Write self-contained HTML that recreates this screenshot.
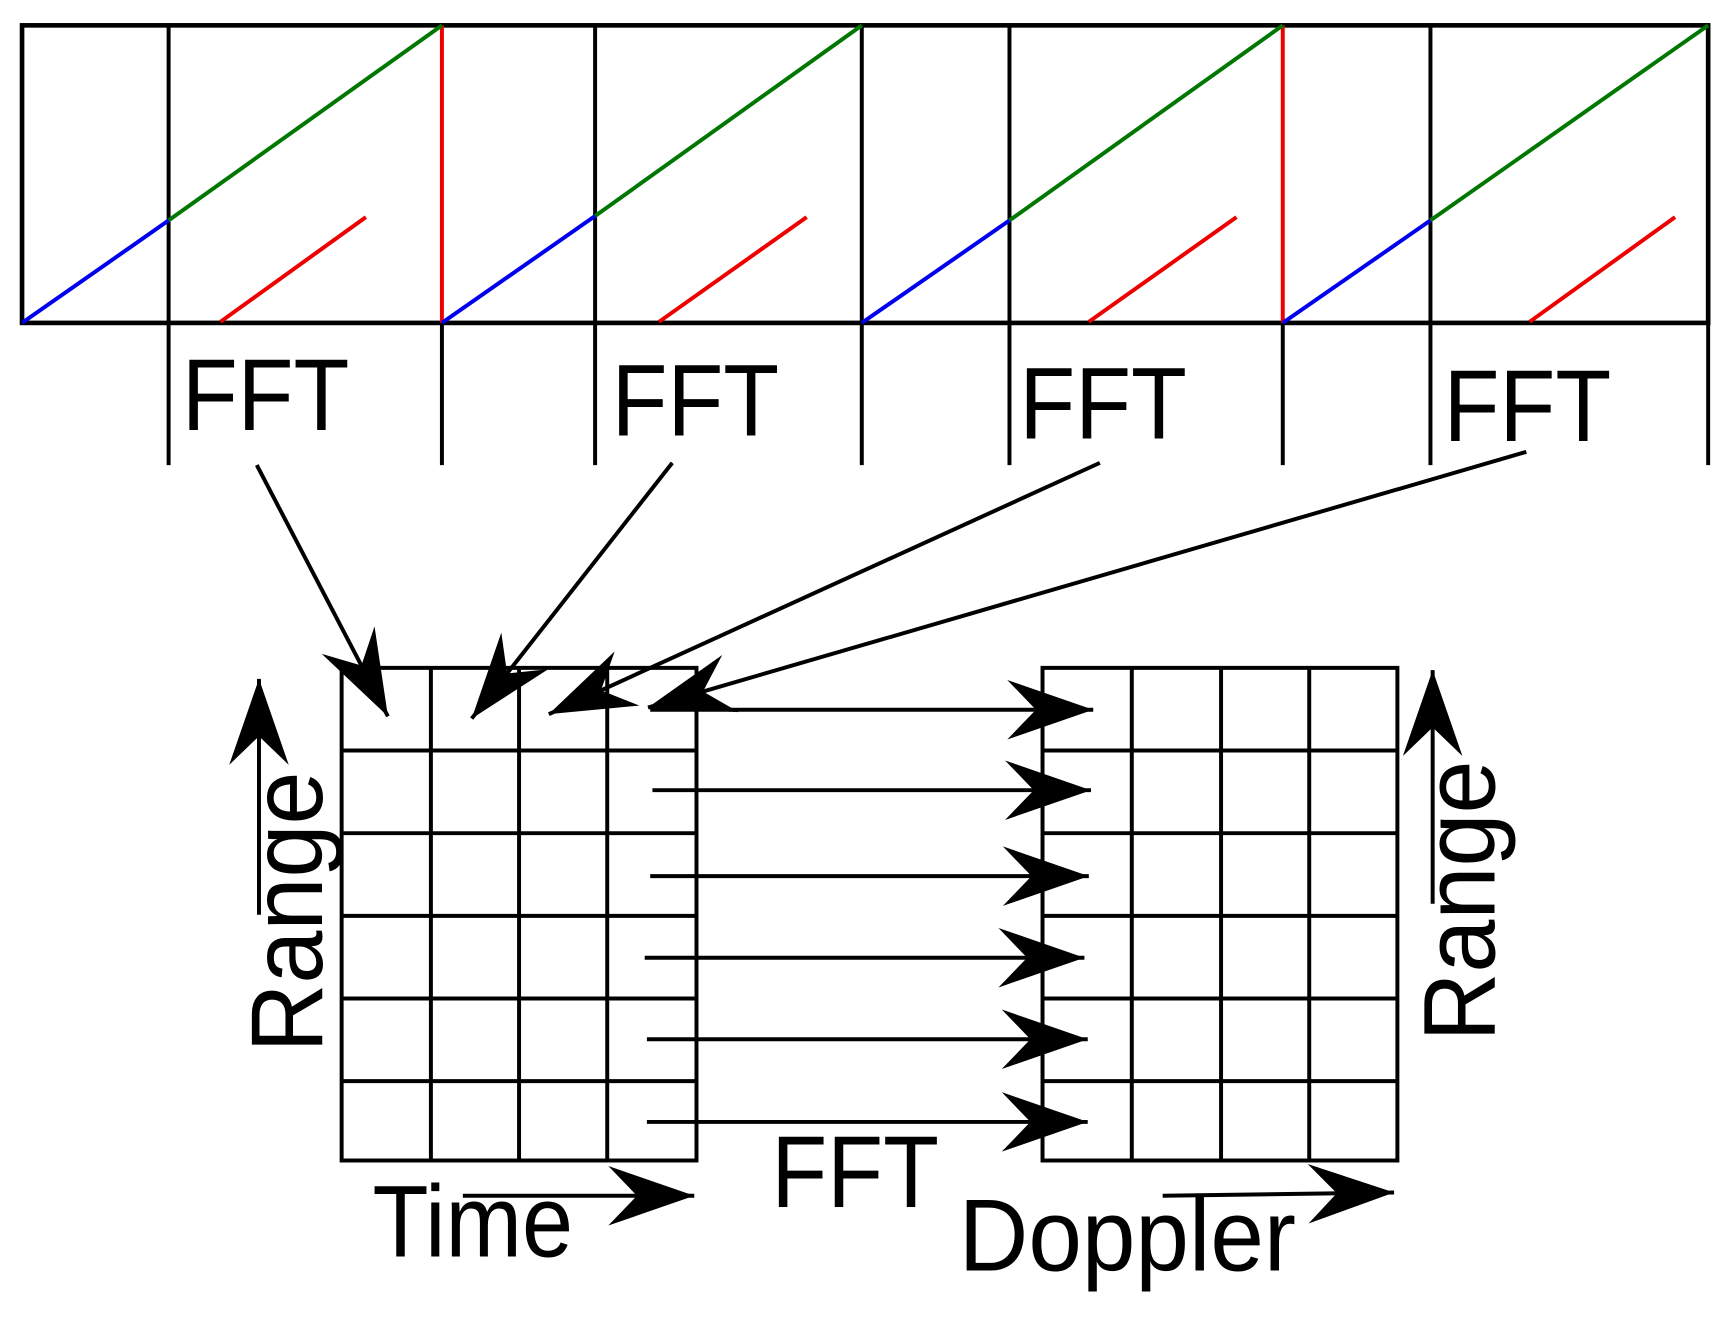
<!DOCTYPE html>
<html><head><meta charset="utf-8"><style>html,body{margin:0;padding:0;background:#fff}svg{display:block}</style></head>
<body>
<svg width="1728" height="1317" viewBox="0 0 1568 1195" preserveAspectRatio="none" xmlns="http://www.w3.org/2000/svg">
<defs>
<marker id="a" markerUnits="userSpaceOnUse" markerWidth="100" markerHeight="80" refX="0" refY="0" viewBox="-80 -40 100 80" orient="auto" overflow="visible">
<path d="M0,0 L-78,-27 L-52,0 L-78,27 Z" fill="#000"/>
</marker>
</defs>
<g fill="none" stroke-width="3.6">
<rect x="20" y="23" width="1530" height="270" stroke="#000" stroke-width="4.2"/>
<g stroke="#000">
<line x1="153" y1="23" x2="153" y2="422"/>
<line x1="401" y1="293" x2="401" y2="422"/>
<line x1="540" y1="23" x2="540" y2="422"/>
<line x1="782" y1="23" x2="782" y2="422"/>
<line x1="916" y1="23" x2="916" y2="422"/>
<line x1="1164" y1="293" x2="1164" y2="422"/>
<line x1="1298" y1="23" x2="1298" y2="422"/>
<line x1="1550" y1="23" x2="1550" y2="422"/>
</g>
<g stroke="#e00">
<line x1="401" y1="23" x2="401" y2="293"/>
<line x1="1164" y1="23" x2="1164" y2="293"/>
<line x1="200" y1="292" x2="332" y2="197"/>
<line x1="598" y1="292" x2="732" y2="197"/>
<line x1="988" y1="292" x2="1122" y2="197"/>
<line x1="1388" y1="292" x2="1520" y2="197"/>
</g>
<g stroke="#0000ee">
<line x1="20" y1="293" x2="153" y2="200"/>
<line x1="401" y1="293" x2="540" y2="196"/>
<line x1="782" y1="293" x2="916" y2="200"/>
<line x1="1164" y1="293" x2="1298" y2="200"/>
</g>
<g stroke="#007700">
<line x1="153" y1="200" x2="401" y2="23"/>
<line x1="540" y1="196" x2="782" y2="23"/>
<line x1="916" y1="200" x2="1164" y2="23"/>
<line x1="1298" y1="200" x2="1550" y2="23"/>
</g>
<g stroke="#000">
<rect x="310" y="606" width="322" height="447"/>
<line x1="391" y1="606" x2="391" y2="1053"/><line x1="471" y1="606" x2="471" y2="1053"/><line x1="551" y1="606" x2="551" y2="1053"/>
<line x1="310" y1="681" x2="632" y2="681"/><line x1="310" y1="756" x2="632" y2="756"/><line x1="310" y1="831" x2="632" y2="831"/><line x1="310" y1="906" x2="632" y2="906"/><line x1="310" y1="981" x2="632" y2="981"/>
<rect x="946" y="606" width="322" height="447"/>
<line x1="1027" y1="606" x2="1027" y2="1053"/><line x1="1108" y1="606" x2="1108" y2="1053"/><line x1="1188" y1="606" x2="1188" y2="1053"/>
<line x1="946" y1="681" x2="1268" y2="681"/><line x1="946" y1="756" x2="1268" y2="756"/><line x1="946" y1="831" x2="1268" y2="831"/><line x1="946" y1="906" x2="1268" y2="906"/><line x1="946" y1="981" x2="1268" y2="981"/>
</g>
<g stroke="#000" marker-end="url(#a)">
<line x1="233" y1="422" x2="352" y2="650"/>
<line x1="610" y1="420" x2="428" y2="652"/>
<line x1="998" y1="420" x2="498" y2="648"/>
<line x1="1385" y1="410" x2="588" y2="642"/>
<line x1="590" y1="644" x2="992" y2="644"/>
<line x1="592" y1="717" x2="990" y2="717"/>
<line x1="590" y1="795" x2="988" y2="795"/>
<line x1="585" y1="869" x2="984" y2="869"/>
<line x1="587" y1="943" x2="987" y2="943"/>
<line x1="587" y1="1018" x2="987" y2="1018"/>
<line x1="235" y1="830" x2="235" y2="616"/>
<line x1="1300" y1="820" x2="1300" y2="608"/>
<line x1="420" y1="1085" x2="630" y2="1085"/>
<line x1="1055" y1="1085" x2="1265" y2="1082"/>
</g>
</g>
<g font-family="Liberation Sans, Arial, sans-serif" font-size="93" fill="#000">
<text x="165" y="390" textLength="152" lengthAdjust="spacingAndGlyphs">FFT</text>
<text x="555" y="395" textLength="152" lengthAdjust="spacingAndGlyphs">FFT</text>
<text x="925" y="398" textLength="152" lengthAdjust="spacingAndGlyphs">FFT</text>
<text x="1310" y="400" textLength="152" lengthAdjust="spacingAndGlyphs">FFT</text>
<text x="700" y="1095" textLength="152" lengthAdjust="spacingAndGlyphs">FFT</text>
<text x="338" y="1140" textLength="182" lengthAdjust="spacingAndGlyphs">Time</text>
<text x="870" y="1153" textLength="306" lengthAdjust="spacingAndGlyphs">Doppler</text>
<text transform="translate(292,955) rotate(-90)" textLength="255" lengthAdjust="spacingAndGlyphs">Range</text>
<text transform="translate(1356,945) rotate(-90)" textLength="255" lengthAdjust="spacingAndGlyphs">Range</text>
</g>
</svg>
</body></html>
